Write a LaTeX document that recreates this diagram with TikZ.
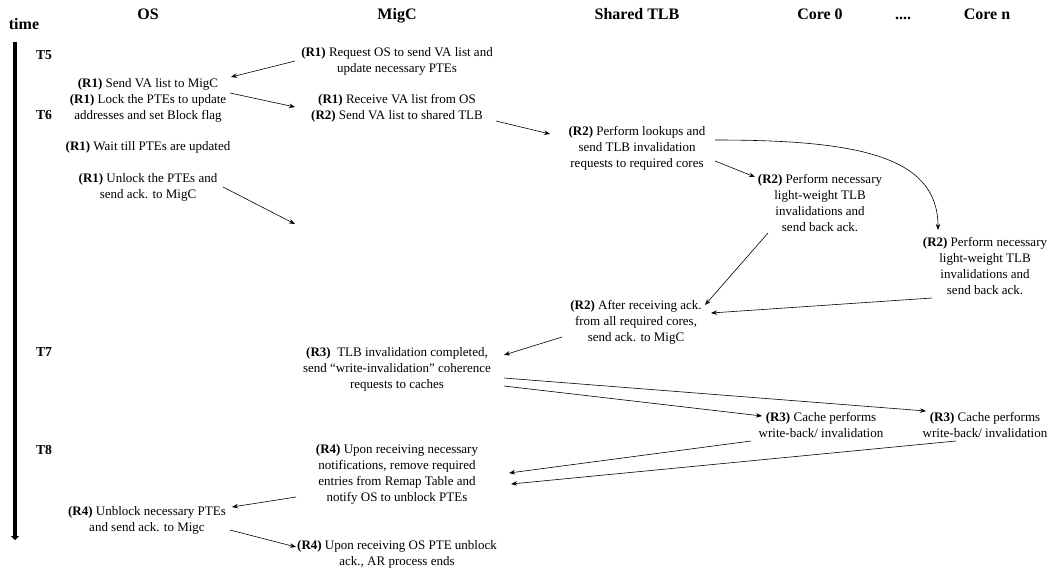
\documentclass[tikz,border=0pt]{standalone}
\usepackage{fontspec}
\setmainfont{Liberation Serif}
\usetikzlibrary{arrows.meta}
\begin{document}
\begin{tikzpicture}[x=1pt,y=-1pt,
  txt/.style={align=center, inner sep=0pt, font=\fontsize{13}{16}\selectfont},
  hdr/.style={inner sep=0pt, anchor=base, font=\fontsize{16}{18}\selectfont\bfseries},
  tlab/.style={inner sep=0pt, font=\fontsize{13.7}{16}\selectfont\bfseries},
  arr/.style={-{Stealth[length=6pt,width=4.5pt]}, line width=0.6pt}]
\useasboundingbox (0,0) rectangle (1059,574);
% headers
\node[hdr] (hos) at (148,19.5) {OS};
\node[hdr] (hmig) at (397,19.5) {MigC};
\node[hdr] (htlb) at (637,19.5) {Shared TLB};
\node[hdr] (hc0) at (820,19.5) {Core 0};
\node[hdr] (hdots) at (903,19.5) {....};
\node[hdr] (hcn) at (987,19.5) {Core n};
\node[hdr] (htime) at (24,29.5) {time};
% timeline
\coordinate (tl1) at (15,42);
\coordinate (tl2) at (15,540);
\draw[line width=3.6pt, -{Triangle[length=4pt,width=8pt]}] (tl1) -- (tl2);
\node[tlab] (t5) at (44,55) {T5};
\node[tlab] (t6) at (44,115) {T6};
\node[tlab] (t7) at (44,352) {T7};
\node[tlab] (t8) at (44,450) {T8};
% texts
\node[txt] (A) at (397,61) {\textbf{(R1)} Request OS to send VA list and\\update necessary PTEs};
\node[txt] (B) at (148,100) {\textbf{(R1)} Send VA list to MigC\\\textbf{(R1)} Lock the PTEs to update\\addresses and set Block flag};
\node[txt] (C) at (397,108) {\textbf{(R1)} Receive VA list from OS\\\textbf{(R2)} Send VA list to shared TLB};
\node[txt] (D) at (148,147) {\textbf{(R1)} Wait till PTEs are updated};
\node[txt] (E) at (148,187) {\textbf{(R1)} Unlock the PTEs and\\send ack. to MigC};
\node[txt] (F) at (637,148) {\textbf{(R2)} Perform lookups and\\send TLB invalidation\\requests to required cores};
\node[txt] (G) at (820,203) {\textbf{(R2)} Perform necessary\\light-weight TLB\\invalidations and\\send back ack.};
\node[txt] (H) at (985,266) {\textbf{(R2)} Perform necessary\\light-weight TLB\\invalidations and\\send back ack.};
\node[txt] (I) at (636,322) {\textbf{(R2)} After receiving ack.\\from all required cores,\\send ack. to MigC};
\node[txt] (J) at (397,369) {\textbf{(R3)}\ \ TLB invalidation completed,\\send “write-invalidation” coherence\\requests to caches};
\node[txt] (K) at (821,425) {\textbf{(R3)} Cache performs\\write-back/ invalidation};
\node[txt] (L) at (985,425) {\textbf{(R3)} Cache performs\\write-back/ invalidation};
\node[txt] (M) at (397,474) {\textbf{(R4)} Upon receiving necessary\\notifications, remove required\\entries from Remap Table and\\notify OS to unblock PTEs};
\node[txt] (N) at (147,520) {\textbf{(R4)} Unblock necessary PTEs\\and send ack. to Migc};
\node[txt] (O) at (397,554) {\textbf{(R4)} Upon receiving OS PTE unblock\\ack., AR process ends};
\coordinate (E2) at (295,224);
% arrows
\draw[arr] ([shift={(-102,0)}]A.center) -- ([shift={(83,-23)}]B.center);
\draw[arr] ([shift={(82,-7)}]B.center) -- ([shift={(-102,-1)}]C.center);
\draw[arr] ([shift={(99,13)}]C.center) -- ([shift={(-87,-14)}]F.center);
\draw[arr] ([shift={(75,0)}]E.center) -- (E2);
\draw[arr] ([shift={(78,13)}]F.center) -- ([shift={(-65,-26)}]G.center);
\draw[arr] ([shift={(78,-8)}]F.center) .. controls +(140,0) and +(0,-75) .. ([shift={(-47,-36)}]H.center);
\draw[arr] ([shift={(-52,30)}]G.center) -- ([shift={(69,-17)}]I.center);
\draw[arr] ([shift={(-53,32)}]H.center) -- ([shift={(75,-9)}]I.center);
\draw[arr] ([shift={(-74,15)}]I.center) -- ([shift={(107,-14)}]J.center);
\draw[arr] ([shift={(107,17)}]J.center) -- ([shift={(-59,-9)}]K.center);
\draw[arr] ([shift={(107,9)}]J.center) -- ([shift={(-59,-14)}]L.center);
\draw[arr] ([shift={(-70,16)}]K.center) -- ([shift={(112,-1)}]M.center);
\draw[arr] ([shift={(-29,16)}]L.center) -- ([shift={(114,10)}]M.center);
\draw[arr] ([shift={(-101,23)}]M.center) -- ([shift={(85,-13)}]N.center);
\draw[arr] ([shift={(83,10)}]N.center) -- ([shift={(-101,-7)}]O.center);
\end{tikzpicture}
\end{document}
